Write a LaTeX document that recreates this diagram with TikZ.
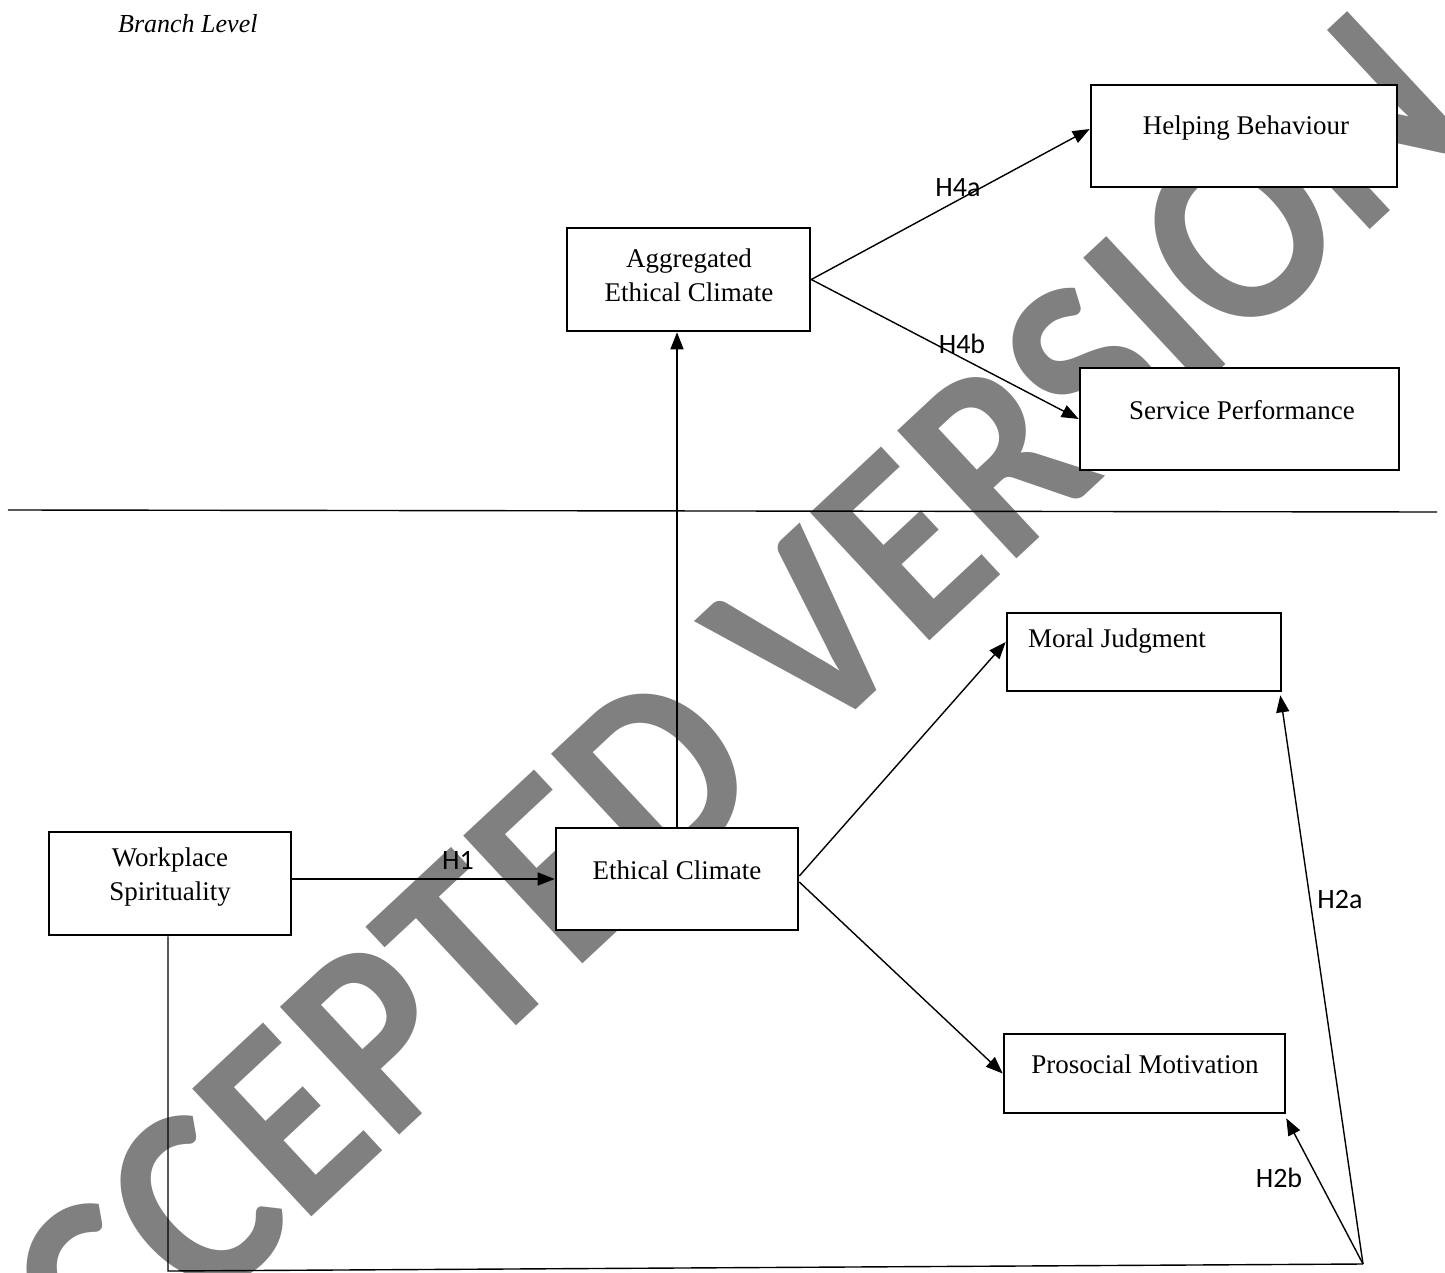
\documentclass[tikz,border=0pt]{standalone}
\usepackage{fontspec}
\setmainfont{Liberation Serif}
\newfontfamily\labelfont{Carlito}
\usetikzlibrary{arrows.meta}
\definecolor{wmgray}{HTML}{808080}
\begin{document}
\begin{tikzpicture}[x=1pt,y=-1pt,
  box/.style={draw, line width=2.6pt, fill=white, inner sep=0pt},
  boxtext/.style={inner sep=0pt, font=\fontsize{27}{34}\selectfont, align=center},
  hlabel/.style={inner sep=0pt, font=\fontsize{28}{30}\labelfont},
  conn/.style={line width=1.4pt},
  arr/.style={conn, -{Triangle[length=17pt,width=13pt]}},
  wm/.style={inner sep=0pt, text=wmgray, font=\fontsize{245}{245}\labelfont\bfseries}
]
\useasboundingbox (0,0) rectangle (1445,1273);
\fill[white] (0,0) rectangle (1445,1273);

% watermark
\node[wm, rotate=43] (wmark) at (682,752) {\scalebox{1}[1.1]{ACCEPTED VERSION}};

% title
\node[inner sep=0pt, anchor=base west, font=\fontsize{26}{30}\selectfont\itshape] (branch) at (118,33) {Branch Level};

% separator
\coordinate (sepL) at (8,510);
\coordinate (sepR) at (1437,512);
\draw[conn] (sepL) -- (sepR);

% boxes
\node[box, minimum width=306pt, minimum height=102pt] (helping) at (1244,136) {};
\node[box, minimum width=243pt, minimum height=103pt] (agg) at (688.5,279.5) {};
\node[box, minimum width=319pt, minimum height=102pt] (service) at (1239.5,419) {};
\node[box, minimum width=274pt, minimum height=78pt] (moral) at (1144,652) {};
\node[box, minimum width=281pt, minimum height=79pt] (prosocial) at (1144.5,1073.5) {};
\node[box, minimum width=242pt, minimum height=103pt] (workplace) at (170,883.5) {};
\node[box, minimum width=242pt, minimum height=102pt] (ethical) at (677,879) {};

% box texts
\node[boxtext] (helpingT) at (1246,128) {Helping Behaviour};
\node[boxtext] (aggT) at (689,275) {Aggregated\\Ethical Climate};
\node[boxtext] (serviceT) at (1242,410) {Service Performance};
\node[boxtext, anchor=west] (moralT) at (1028,641) {Moral Judgment};
\node[boxtext] (prosocialT) at (1145,1064) {Prosocial Motivation};
\node[boxtext] (workplaceT) at (170,877) {Workplace\\Spirituality};
\node[boxtext] (ethicalT) at (677,870) {Ethical Climate};

% connectors
\draw[arr] (workplace.east |- ethical.west) -- (ethical.west);
\draw[arr] (ethical.north) -- (ethical.north |- agg.south);
\draw[arr] (agg.east) -- ([yshift=7pt]helping.west);
\draw[arr] (agg.east) -- (service.west);
\draw[arr] ([yshift=3pt]ethical.east) -- ([yshift=10pt]moral.west);
\draw[arr] ([yshift=-3pt]ethical.east) -- (prosocial.west);

\coordinate (cornerL) at (168,1271);
\coordinate (cornerR) at (1363,1264);
\draw[conn] (workplace.south -| cornerL) -- (cornerL) -- (cornerR);
\draw[arr] (cornerR) -- ([xshift=-2pt,yshift=-3pt]moral.south east);
\draw[arr] (cornerR) -- ([yshift=-4pt]prosocial.south east);

% hypothesis labels
\node[hlabel] (h1) at (458,860) {H1};
\node[hlabel] (h4a) at (958,188) {H4a};
\node[hlabel] (h4b) at (962,344) {H4b};
\node[hlabel] (h2a) at (1340,900) {H2a};
\node[hlabel] (h2b) at (1279,1178) {H2b};
\end{tikzpicture}
\end{document}
